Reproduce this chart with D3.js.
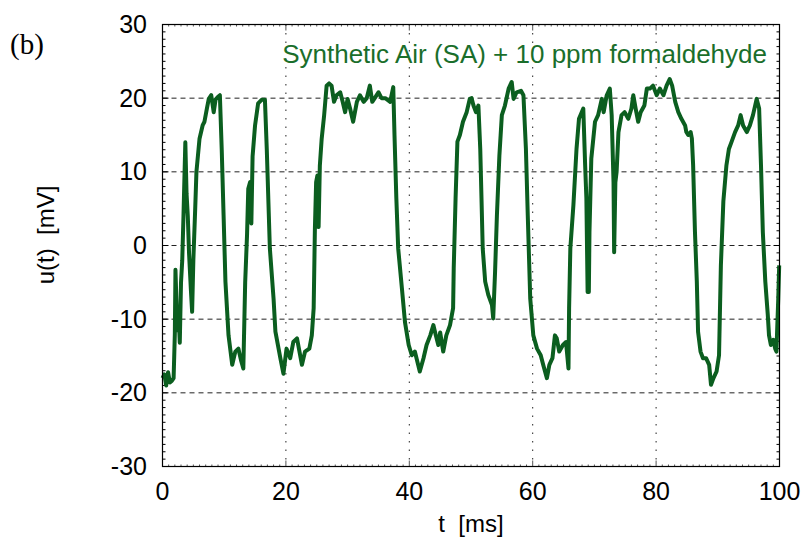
<!DOCTYPE html>
<html><head><meta charset="utf-8">
<script src="https://cdn.jsdelivr.net/npm/d3@7"></script>
<style>body{margin:0;background:#fff}svg{display:block}text{white-space:pre}</style>
</head><body>
<script>
const tMs = [0.0,0.3,0.6,0.9,1.2,1.5,1.8,2.0,2.1,2.4,2.6,2.8,3.0,3.2,3.4,3.7,3.9,4.1,4.3,4.6,4.8,5.0,5.3,5.5,6.0,6.5,6.8,7.2,7.5,7.9,8.3,8.6,9.0,9.3,9.6,9.9,10.2,10.7,11.3,11.8,12.3,12.7,13.1,13.4,13.7,13.9,14.2,14.4,14.6,15.0,15.5,16.1,16.6,16.9,17.4,18.0,18.3,19.1,19.6,20.1,20.7,21.2,21.8,22.6,23.1,23.8,24.2,24.5,24.7,24.9,25.1,25.3,25.5,25.8,26.2,26.6,27.0,27.4,27.8,28.2,28.8,29.2,29.6,30.0,30.4,30.9,31.5,32.0,32.6,33.1,33.6,34.0,34.4,35.0,35.5,36.1,36.9,37.4,37.6,37.9,38.2,38.8,39.3,39.9,40.4,40.9,41.7,42.3,42.8,43.4,43.9,44.3,44.7,45.0,45.5,46.0,46.6,47.1,47.2,47.5,47.8,48.2,48.7,49.3,49.8,50.1,50.4,50.8,51.2,51.5,51.7,51.9,52.3,52.8,53.4,53.6,53.9,54.2,54.6,55.0,55.5,56.1,56.6,56.9,57.4,58.1,58.5,58.9,59.2,59.6,60.1,60.7,61.3,61.7,62.3,62.7,63.2,63.6,63.9,64.3,64.9,65.4,65.8,65.9,66.1,66.6,67.1,67.5,68.2,68.5,68.7,68.9,69.1,69.2,69.5,70.1,70.6,71.2,71.5,72.0,72.5,72.8,73.1,73.2,73.4,73.6,73.9,74.4,74.9,75.5,76.0,76.3,76.7,77.1,77.5,78.1,78.5,79.0,79.5,80.1,80.6,81.2,81.7,82.2,82.6,83.1,83.6,84.1,84.7,84.9,85.2,85.6,85.8,86.0,86.3,86.6,86.8,87.2,87.6,88.1,88.6,88.9,89.3,89.8,90.2,90.5,90.9,91.4,91.8,92.2,92.8,93.3,93.7,94.1,94.7,95.2,95.7,96.3,96.7,97.0,97.3,97.7,98.1,98.3,98.6,99.0,99.3,99.5,99.8,99.95];
const uMv = [-18.0,-17.5,-19.0,-17.2,-18.6,-18.4,-18.0,-12.0,-3.3,-11.5,-9.0,-13.2,-5.0,-2.0,4.0,14.0,7.0,4.0,-1.0,-6.0,-9.0,-2.0,5.0,10.0,14.5,16.3,16.8,18.6,19.9,20.4,18.1,19.8,20.2,20.4,13.0,4.1,-4.9,-12.2,-16.2,-14.4,-14.0,-15.5,-16.7,-5.0,1.4,7.7,8.6,3.0,12.1,16.3,19.3,19.8,19.8,13.1,-0.4,-7.2,-11.7,-15.3,-17.4,-14.0,-15.3,-13.1,-12.6,-16.2,-14.4,-14.0,-12.2,-8.5,2.3,8.6,9.5,2.5,10.8,14.5,17.7,21.7,22.0,21.7,19.5,20.4,20.8,19.5,18.1,19.9,18.6,16.8,19.5,20.4,19.5,20.0,21.7,19.5,20.0,20.8,20.0,20.0,19.5,21.5,15.0,6.4,-0.4,-5.8,-10.4,-13.5,-14.9,-14.4,-17.1,-15.3,-13.5,-12.2,-10.8,-12.2,-13.5,-11.8,-14.4,-12.2,-10.8,-8.5,-3.1,6.4,14.1,15.0,16.8,18.1,19.9,20.0,19.0,18.1,19.0,13.1,6.4,-0.4,-4.9,-6.7,-8.1,-9.9,-3.6,4.1,12.2,17.7,19.0,21.3,22.2,19.9,20.8,21.0,20.4,13.1,4.1,-7.2,-12.2,-14.0,-14.9,-16.2,-18.0,-16.2,-15.3,-12.2,-12.6,-14.4,-13.5,-13.1,-16.7,-8.5,-0.4,5.5,13.1,17.2,18.6,10.9,6.4,-6.3,-6.3,1.8,11.8,16.8,17.7,19.9,18.1,20.4,21.3,17.7,8.6,-0.9,8.6,10.0,15.4,17.7,18.1,17.2,18.6,20.4,18.5,16.8,18.1,19.0,21.3,21.3,21.7,20.4,21.3,20.4,21.7,22.6,21.7,19.5,18.1,17.2,16.3,15.4,15.0,15.4,14.5,10.9,1.8,-4.9,-11.7,-14.4,-15.3,-15.3,-16.2,-18.9,-18.0,-17.1,-14.9,-2.7,6.0,10.9,13.1,14.0,15.4,16.3,17.7,16.3,15.4,16.3,17.7,19.9,18.6,10.9,1.8,-4.9,-9.4,-12.2,-13.5,-12.8,-14.0,-14.4,-7.2,-2.7];
const xTicks = [0,20,40,60,80,100];
const yTicks = [-30,-20,-10,0,10,20,30];
const annotation = "Synthetic Air (SA) + 10 ppm formaldehyde";
const panelLabel = "(b)";
const xLabel = "t  [ms]";
const yLabel = "u(t)  [mV]";

const W = 805, H = 548;
const L = 162.5, R = 779.5, T = 24.5, B = 466.5;
const svg = d3.select("body").append("svg").attr("width", W).attr("height", H);
const x = d3.scaleLinear().domain([0,100]).range([L,R]);
const y = d3.scaleLinear().domain([-30,30]).range([B,T]);
const font = "'Liberation Sans', Arial, sans-serif";

// grid
const g = svg.append("g");
g.selectAll(".hg").data(yTicks.filter(d => d > -30 && d < 30)).join("line")
  .attr("x1", L).attr("x2", R).attr("y1", d => y(d)).attr("y2", d => y(d))
  .attr("stroke", "#222").attr("stroke-width", 1).attr("stroke-dasharray", "5,4");
g.selectAll(".vg").data(xTicks.filter(d => d > 0 && d < 100)).join("line")
  .attr("x1", d => x(d)).attr("x2", d => x(d)).attr("y1", T).attr("y2", B)
  .attr("stroke", "#222").attr("stroke-width", 1).attr("stroke-dasharray", "1.5,7");

// minor ticks
const minorY = d3.range(-30, 30.01, 1);
const minorX = d3.range(0, 100.01, 1);
const ax = svg.append("g").attr("stroke", "#000").attr("stroke-width", 1);
minorY.forEach(v => {
  const len = (v % 10 === 0) ? 6 : 3;
  ax.append("line").attr("x1", L).attr("x2", L + len).attr("y1", y(v)).attr("y2", y(v));
  ax.append("line").attr("x1", R).attr("x2", R - len).attr("y1", y(v)).attr("y2", y(v));
});
minorX.forEach(v => {
  const len = (v % 20 === 0) ? 6 : 2;
  ax.append("line").attr("y1", B).attr("y2", B - len).attr("x1", x(v)).attr("x2", x(v)).attr("stroke","#555");
  ax.append("line").attr("y1", T).attr("y2", T + len).attr("x1", x(v)).attr("x2", x(v)).attr("stroke","#555");
});

// data line
const pts = tMs.map((t,i) => [t, uMv[i]]);
svg.append("path").datum(pts)
  .attr("d", d3.line().x(d => x(d[0])).y(d => y(d[1])))
  .attr("fill", "none").attr("stroke", "#0b5e1f").attr("stroke-width", 4)
  .attr("stroke-linejoin", "round").attr("stroke-linecap", "butt");

// frame
svg.append("rect").attr("x", L).attr("y", T).attr("width", R-L).attr("height", B-T)
  .attr("fill", "none").attr("stroke", "#000").attr("stroke-width", 1.2);

// tick labels
svg.selectAll(".yl").data(yTicks).join("text")
  .attr("x", 147).attr("y", d => y(d) + 8.5).attr("text-anchor", "end")
  .attr("font-family", font).attr("font-size", 25).text(d => d);
svg.selectAll(".xl").data(xTicks).join("text")
  .attr("x", d => x(d)).attr("y", 500).attr("text-anchor", "middle")
  .attr("font-family", font).attr("font-size", 25).text(d => d);

svg.append("text").attr("x", 471).attr("y", 532).attr("text-anchor","middle")
  .attr("xml:space", "preserve")
  .attr("font-family", font).attr("font-size", 24).text(xLabel);
svg.append("text").attr("transform", "translate(54,235) rotate(-90)").attr("text-anchor","middle")
  .attr("xml:space", "preserve")
  .attr("font-family", font).attr("font-size", 24).text(yLabel);
svg.append("text").attr("x", 10).attr("y", 54)
  .attr("font-family", "'Liberation Serif', 'Times New Roman', serif").attr("font-size", 29).text(panelLabel);
svg.append("text").attr("x", 767).attr("y", 63).attr("text-anchor","end")
  .attr("font-family", font).attr("font-size", 26).attr("fill", "#1a6e2b").text(annotation);
</script>
</body></html>
